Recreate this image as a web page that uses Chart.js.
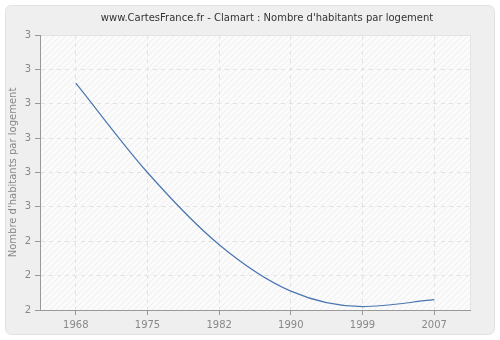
<!DOCTYPE html>
<html>
<head>
<meta charset="utf-8">
<script src="https://cdn.jsdelivr.net/npm/chart.js@4/dist/chart.umd.min.js"></script>
<style>
  html, body { margin: 0; padding: 0; background: #fff; }
  #wrap { width: 500px; height: 340px; }
</style>
</head>
<body>
<div id="wrap"><canvas id="myChart" width="500" height="340"></canvas></div>
<script>
// data
const years = ["1968", "1975", "1982", "1990", "1999", "2007"];
const habitantsParLogement = [2.86, 2.60, 2.39, 2.255, 2.21, 2.23];
const titleText = "www.CartesFrance.fr - Clamart : Nombre d'habitants par logement";
const yTitle = "Nombre d'habitants par logement";

// hatched background for plot area
function makeHatch() {
  const c = document.createElement("canvas");
  c.width = 6; c.height = 6;
  const g = c.getContext("2d");
  g.fillStyle = "#fbfbfb";
  g.fillRect(0, 0, 6, 6);
  g.strokeStyle = "#eeeeee";
  g.lineWidth = 1;
  g.beginPath();
  g.moveTo(0, 6); g.lineTo(6, 0);
  g.moveTo(-1, 1); g.lineTo(1, -1);
  g.moveTo(5, 7); g.lineTo(7, 5);
  g.stroke();
  return g.createPattern(c, "repeat");
}

const backgroundPlugin = {
  id: "bg",
  beforeDraw(chart) {
    const ctx = chart.ctx;
    const a = chart.chartArea;
    ctx.save();
    ctx.fillStyle = "#ffffff";
    ctx.fillRect(0, 0, chart.width, chart.height);
    // outer panel
    ctx.beginPath();
    ctx.roundRect(5.5, 5.5, 489, 329, 6);
    ctx.fillStyle = "#efefef";
    ctx.fill();
    ctx.strokeStyle = "#e2e2e2";
    ctx.lineWidth = 1;
    ctx.stroke();
    // plot area
    ctx.fillStyle = makeHatch();
    ctx.fillRect(a.left, a.top, a.right - a.left, a.bottom - a.top);
    ctx.strokeStyle = "#e4e4e4";
    ctx.strokeRect(a.left + 0.5, a.top + 0.5, a.right - a.left, a.bottom - a.top);
    ctx.restore();
  },
  afterDraw(chart) {
    const ctx = chart.ctx;
    ctx.save();
    ctx.fillStyle = "#333";
    ctx.font = "10px 'DejaVu Sans'";
    ctx.textAlign = "center";
    ctx.textBaseline = "middle";
    ctx.fillText(titleText, 267, 18);
    ctx.restore();
  }
};

const myChart = new Chart("myChart", {
  type: "line",
  data: {
    labels: years,
    datasets: [{
      data: habitantsParLogement,
      borderColor: "#4a76b0",
      borderWidth: 1.2,
      pointRadius: 0,
      fill: false,
      cubicInterpolationMode: "monotone"
    }]
  },
  options: {
    responsive: false,
    animation: false,
    layout: { padding: { left: 7, right: 30, top: 35, bottom: 0 } },
    plugins: {
      legend: { display: false },
      title: { display: false },
      tooltip: { enabled: false }
    },
    scales: {
      x: {
        offset: true,
        grid: { offset: false, color: "#e2e2e2", tickColor: "#999", tickLength: 5, drawOnChartArea: true },
        border: { color: "#999", dash: [4, 4] },
        ticks: { color: "#888", font: { family: "DejaVu Sans", size: 10 }, padding: 4, maxRotation: 0 },
        afterFit(scale) { scale.height = 30; }
      },
      y: {
        min: 2.2,
        max: 3.0,
        ticks: {
          stepSize: 0.1,
          color: "#888",
          font: { family: "DejaVu Sans", size: 10 },
          padding: 4,
          callback: v => Math.round(v)
        },
        grid: { color: "#e2e2e2", tickColor: "#999", tickLength: 5 },
        border: { color: "#999", dash: [4, 4] },
        title: { display: true, text: yTitle, color: "#888", font: { family: "DejaVu Sans", size: 10 }, padding: 0 },
        afterFit(scale) { scale.width = 33; }
      }
    }
  },
  plugins: [backgroundPlugin]
});
</script>
</body>
</html>
